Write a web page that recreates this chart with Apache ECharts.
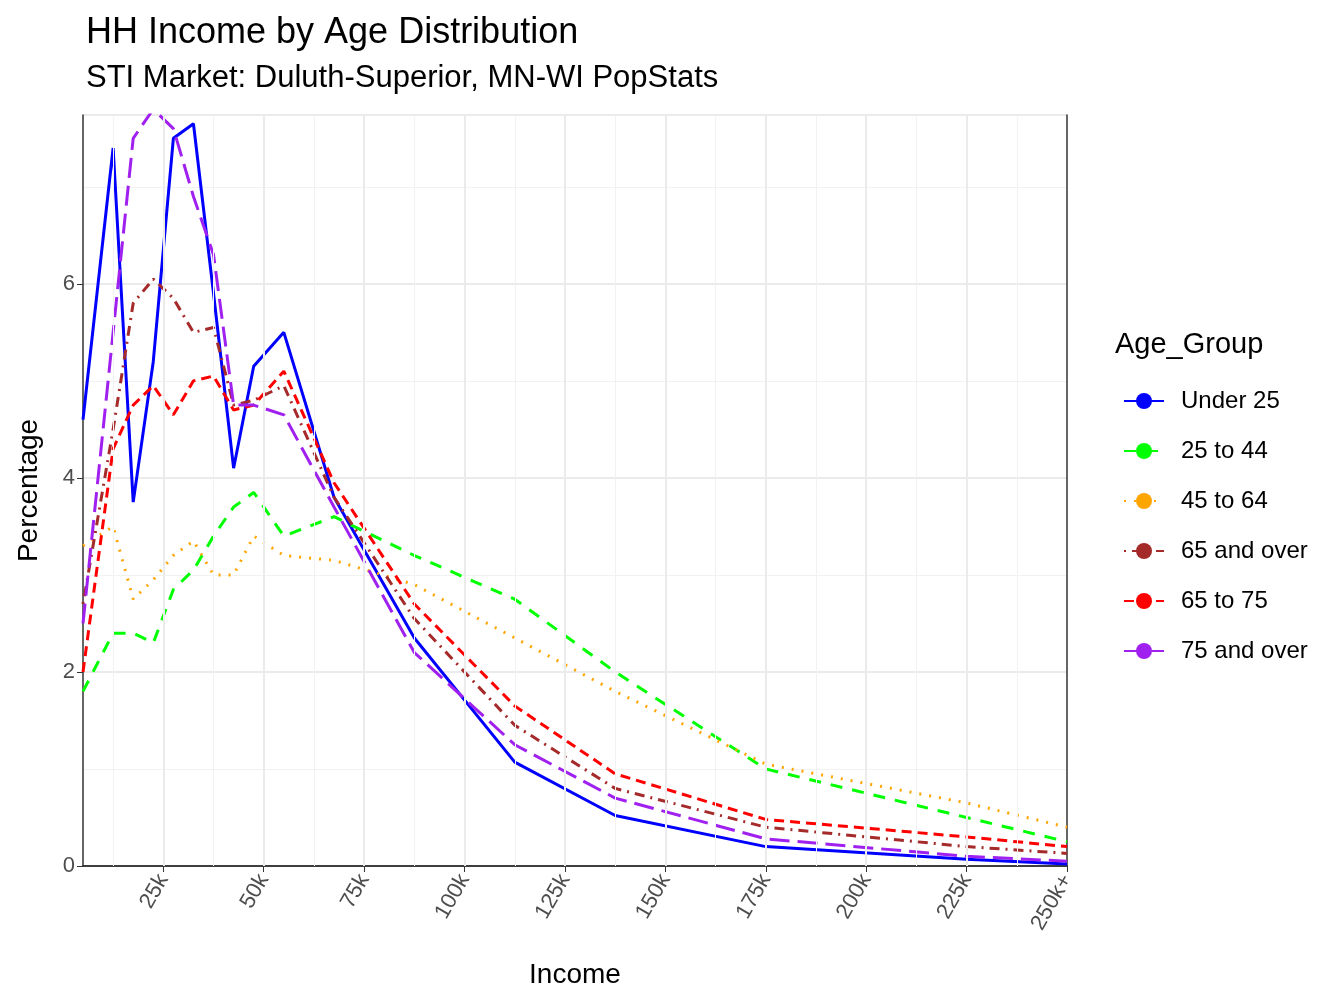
<!DOCTYPE html>
<html><head><meta charset="utf-8">
<script src="https://cdn.jsdelivr.net/npm/echarts@6/dist/echarts.min.js"></script>
<style>body{margin:0}#main{width:1344px;height:1008px}</style>
</head><body><div id="main"></div>
<script>
var income = [5, 12.5, 17.5, 22.5, 27.5, 32.5, 37.5, 42.5, 47.5, 55, 67.5, 87.5, 112.5, 137.5, 175, 225, 250];
var under25 = [4.6, 7.4, 3.75, 5.2, 7.5, 7.65, 5.9, 4.1, 5.15, 5.5, 3.8, 2.35, 1.07, 0.52, 0.2, 0.07, 0.02];
var age25to44 = [1.8, 2.4, 2.4, 2.3, 2.85, 3.05, 3.4, 3.7, 3.85, 3.4, 3.6, 3.2, 2.75, 2.0, 1.0, 0.5, 0.25];
var age45to64 = [3.3, 3.5, 2.75, 2.95, 3.2, 3.35, 3.0, 3.0, 3.4, 3.2, 3.15, 2.9, 2.35, 1.8, 1.05, 0.65, 0.4];
var age65over = [2.7, 4.5, 5.8, 6.05, 5.85, 5.5, 5.55, 4.75, 4.8, 4.95, 3.8, 2.55, 1.45, 0.8, 0.4, 0.2, 0.13];
var age65to75 = [2.0, 4.3, 4.75, 4.95, 4.65, 5.0, 5.05, 4.7, 4.75, 5.1, 3.95, 2.7, 1.65, 0.95, 0.48, 0.3, 0.2];
var age75over = [2.5, 5.5, 7.5, 7.8, 7.6, 6.9, 6.3, 4.75, 4.75, 4.65, 3.7, 2.2, 1.25, 0.7, 0.28, 0.1, 0.05];
var xTicks = [25, 50, 75, 100, 125, 150, 175, 200, 225, 250];
var xMinor = [12.5, 37.5, 62.5, 87.5, 112.5, 137.5, 162.5, 187.5, 212.5, 237.5];

var groups = [
  {name: 'Under 25', data: under25, color: '#0000ff', type: 'solid'},
  {name: '25 to 44', data: age25to44, color: '#00ff00', type: [12, 10]},
  {name: '45 to 64', data: age45to64, color: '#ffa500', type: [2, 8]},
  {name: '65 and over', data: age65over, color: '#a52a2a', type: [2, 6, 10, 6]},
  {name: '65 to 75', data: age65to75, color: '#ff0000', type: [10, 6]},
  {name: '75 and over', data: age75over, color: '#a020f0', type: [20, 8]}
];

var series = groups.map(function (g) {
  return {
    name: g.name, type: 'line', symbol: 'none', clip: true,
    data: income.map(function (x, i) { return [x, g.data[i]]; }),
    lineStyle: {color: g.color, width: 3, type: g.type},
    itemStyle: {color: g.color}
  };
});
// grid lines at custom positions
series.push({
  type: 'line', data: [], silent: true,
  markLine: {
    symbol: 'none', silent: true, label: {show: false}, animation: false,
    data: xMinor.map(function (v) { return {xAxis: v, lineStyle: {color: '#f2f2f2', width: 1, type: 'solid'}}; })
      .concat(xTicks.slice(0, -1).map(function (v) { return {xAxis: v, lineStyle: {color: '#ebebeb', width: 2, type: 'solid'}}; }))
  },
  z: 0
});

var font = 'Liberation Sans, Arial, sans-serif';
var chart = echarts.init(document.getElementById('main'));
chart.setOption({
  animation: false,
  backgroundColor: '#fff',
  title: {
    text: 'HH Income by Age Distribution',
    subtext: 'STI Market: Duluth-Superior, MN-WI PopStats',
    left: 81, top: 10, itemGap: 12,
    textStyle: {fontFamily: font, fontSize: 36, fontWeight: 'normal', color: '#000'},
    subtextStyle: {fontFamily: font, fontSize: 31, color: '#000'}
  },
  grid: {left: 83, right: 277, top: 115, bottom: 142},
  xAxis: [{
    type: 'value', min: 5, max: 250,
    name: 'Income', nameLocation: 'middle', nameGap: 95,
    nameTextStyle: {fontFamily: font, fontSize: 28, color: '#000'},
    axisLine: {show: true, onZero: false, lineStyle: {color: '#333', width: 1.5}},
    axisTick: {show: true, customValues: xTicks, length: 6, lineStyle: {color: '#333'}},
    axisLabel: {customValues: xTicks, rotate: 60, fontFamily: font, fontSize: 22, color: '#4d4d4d', margin: 10,
      formatter: function (v) { return v === 250 ? '250k+' : v + 'k'; }},
    splitLine: {show: false}
  }, {
    type: 'value', min: 5, max: 250, position: 'top',
    axisLine: {show: true, lineStyle: {color: '#333', width: 1.5}},
    axisTick: {show: false}, axisLabel: {show: false}, splitLine: {show: false}
  }],
  yAxis: [{
    type: 'value', min: 0, max: 7.74, interval: 2,
    name: 'Percentage', nameLocation: 'middle', nameGap: 40,
    nameTextStyle: {fontFamily: font, fontSize: 28, color: '#000'},
    axisLine: {show: true, onZero: false, lineStyle: {color: '#333', width: 1.5}},
    axisTick: {show: true, length: 6, lineStyle: {color: '#333'}},
    axisLabel: {fontFamily: font, fontSize: 22, color: '#4d4d4d', showMaxLabel: false},
    splitLine: {lineStyle: {color: '#ebebeb', width: 2}},
    minorTick: {show: false, splitNumber: 2},
    minorSplitLine: {show: true, lineStyle: {color: '#f2f2f2', width: 1}}
  }, {
    type: 'value', min: 0, max: 7.74, position: 'right',
    axisLine: {show: true, lineStyle: {color: '#333', width: 1.5}},
    axisTick: {show: false}, axisLabel: {show: false}, splitLine: {show: false}
  }],
  legend: {
    orient: 'vertical', left: 1118, top: 384, itemWidth: 40, itemHeight: 20, itemGap: 26,
    textStyle: {fontFamily: font, fontSize: 24, color: '#000', padding: [0, 0, 0, 12]},
    data: groups.map(function (g) { return g.name; })
  },
  graphic: [{type: 'text', left: 1115, top: 330,
    style: {text: 'Age_Group', font: '29px ' + font, fill: '#000'}}],
  series: series
});
</script></body></html>
